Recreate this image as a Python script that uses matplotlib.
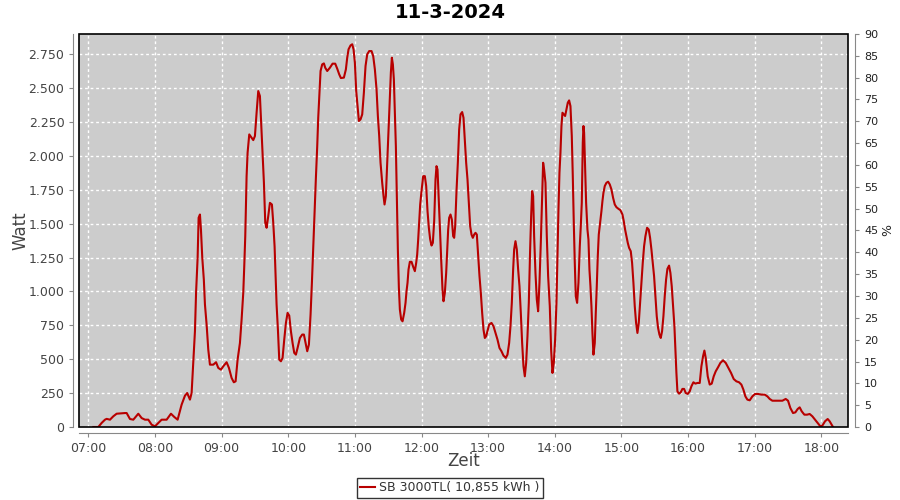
import matplotlib
matplotlib.use("Agg")
import matplotlib.pyplot as plt
import matplotlib.dates as mdates
import matplotlib.ticker as mticker
import numpy as np
import pandas as pd

# day and inverter
day = "2024-03-11"
title = "11-3-2024"
series_label = "SB 3000TL( 10,855 kWh )"

# minutes after 07:00 and AC power in watt
minutes = [
    4.5, 9, 12, 15, 16.5, 19.5, 22.5, 25.5, 33, 34.5, 37.5, 40.5, 45, 48, 51, 54, 57, 60,
    63, 66, 70.5, 74.4, 77.4, 80.4, 84, 87, 89, 91.5, 93, 94.5, 96, 97, 98.4, 99.3, 100.5,
    101.4, 102.6, 104, 105, 106.5, 108, 109.5, 112.5, 115, 117, 119.4, 121.5, 124.5, 126.6,
    129, 131, 132.6, 134.4, 136.5,
    138, 139.5, 140.4, 141.3, 141.9, 142.5, 143.4, 144.9, 146.4, 148.5, 150, 151.5, 153,
    154.5, 155.4, 156.9, 158.1, 159.3, 160.5, 162, 163.5, 165.3, 166.5, 167.7, 168.6, 169.5,
    170.7, 171.9, 173.4, 174.9, 176.4, 177.9, 179.4, 180.9, 182.4, 183.9, 185.4, 186.9,
    188.4, 190.5, 192.6, 194.1, 195.6, 197.1, 198.6, 200.1, 201.3, 202.5, 203.7, 204.9,
    206.1, 207, 207.9, 209.1, 210.6, 212.1, 213.3, 215.1, 217.5, 219.9, 222.3, 224.1, 225.9,
    227.4, 230.1, 231.9, 233.1, 234.3, 236.1, 237.6, 238.8, 240, 241.2, 242.4, 243.6, 245.1,
    246.6, 248.1, 249.6, 251.1, 252.9, 255, 256.5, 258, 259.5, 260.7, 261.9, 263.1, 264.6,
    265.8, 266.7, 267.9, 269.1, 270.3, 271.5, 272.4, 273.3, 274.2, 275.1, 276, 276.9,
    277.8, 278.7, 279.6, 280.5,
    281.7, 282.9, 284.4, 285.6, 286.5, 287.4, 288.3, 289.5, 291, 292.5, 294, 295.2, 296.1,
    297, 297.9, 298.8, 300, 301.5, 303, 304.2, 305.4, 306.6, 307.8, 309, 310.2, 311.4,
    312.6, 313.5, 314.4, 315.3, 316.5, 317.7, 318.9, 319.8, 321, 322.2, 323.1, 324, 324.9,
    326.1, 327.3, 328.5, 329.4, 330.3, 331.5, 332.7, 333.9, 335.1, 336.6, 337.8, 339,
    340.2, 341.4, 342.6, 343.8, 345, 346.2, 347.4, 348.6, 349.8, 351, 352.2, 353.4, 354.6,
    355.8, 357, 358.2, 359.4, 360.9, 363, 364.8, 366.6, 368.4, 370.2, 372, 373.8, 375.9,
    377.4, 378.9, 380.1, 381.3, 382.5, 383.4, 384.6, 385.8, 387, 388.2, 389.4, 390.6,
    391.8, 393, 394.2, 395.4, 396.6, 397.8, 398.7, 399.6, 400.5, 401.4, 402.6, 403.8, 405,
    406.2, 407.4, 408.6, 409.5, 410.4, 411.6, 412.8, 414, 415.5,
    416.7, 417.9, 419.1, 420.3, 421.5, 422.4, 423.3, 424.2, 425.1, 426, 426.9, 428.1,
    429.3, 430.5, 431.7, 432.9, 434.1, 435.3, 436.2, 437.1, 438, 438.9, 440.1, 441.3,
    442.5, 443.4, 444.3, 445.2, 445.8, 446.4, 447.3, 448.2, 449.4, 450.3, 451.2, 452.1,
    453, 453.9, 454.8, 456, 456.9, 457.8, 458.7, 459.6, 460.8, 462, 462.9, 463.8, 465,
    466.5, 468, 469.5, 471, 472.5, 474, 475.5, 477.3, 479.1, 480.9, 482.1, 483.3, 484.5,
    485.7, 486.9, 488.4, 489.6, 490.8, 492, 493.2, 494.4, 495.6, 496.8, 498, 499.2, 500.4,
    501.6, 503.1, 504.6, 505.8, 507, 508.2, 509.4, 510.6, 511.8, 513, 514.2, 515.4, 516.6,
    517.8, 519, 520.2, 521.4, 522.9, 524.1, 525.3, 526.5, 527.7, 528.6, 529.5, 530.4,
    531.9, 533.4, 534.9, 536.4, 537.9, 539.7, 541.5, 543, 544.8, 546.6, 548.4,
    550.5, 552, 553.5, 554.7, 555.9, 557.7, 559.5, 561.3, 563.1, 564.9, 567, 569.1, 571.5,
    573.9, 576.3, 578.7, 581.1, 583.5, 585.9, 588, 589.8, 591.6, 593.4, 595.5, 597.9,
    600.3, 603, 606, 609, 611.4, 613.5, 615.9, 618.9, 621.9, 624.9, 627.9, 630, 632.1,
    634.5, 636.6, 638.7, 640.5, 642.3, 644.7, 647.1, 649.5, 651.9, 654.3, 656.7, 659.1,
    660.9, 663.3, 665.7, 667.5, 669.3, 670.5,
]
watt = [
    0, 0, 30, 54, 60, 54, 79, 98, 103, 103, 59, 54, 98, 66, 54, 54, 17, 5,
    30, 54, 54, 98, 74, 54, 165, 231, 251, 202, 251, 473, 707, 990, 1248, 1544, 1568,
    1457, 1248, 1088, 904, 756, 571, 460, 460, 478, 436, 423, 448, 478, 436,
    362, 330, 337, 497, 620,
    793, 990, 1187, 1408, 1630, 1851, 2024, 2159, 2142, 2117, 2147, 2319, 2479,
    2442, 2282, 2024, 1802, 1507, 1470, 1556, 1654, 1642, 1507, 1334, 1113, 904,
    719, 497, 485, 510, 645, 768, 842, 822, 707, 620, 547, 534,
    583, 657, 682, 682, 620, 559, 608, 830, 1064, 1322, 1581, 1839,
    2073, 2282, 2430, 2627, 2676, 2683, 2651, 2627, 2651, 2681, 2681, 2644, 2602,
    2575, 2578, 2639, 2725, 2787, 2816, 2824, 2787, 2688, 2479, 2368, 2258, 2270,
    2307, 2467, 2664, 2750, 2774, 2774, 2737, 2639, 2491, 2295, 2147, 1950, 1802,
    1704, 1642, 1704, 1950, 2196, 2455, 2615, 2725, 2676, 2565, 2319, 2073,
    1679, 1310, 1030, 867,
    793, 780, 842, 916, 1002, 1064, 1162, 1219, 1219, 1182, 1150, 1211, 1273,
    1384, 1519, 1642, 1741, 1851, 1851, 1778, 1593, 1470, 1384, 1339, 1359, 1519,
    1827, 1925, 1900, 1728, 1482, 1236, 1014, 928, 990, 1137, 1297, 1457, 1544,
    1568, 1531, 1408, 1396, 1482, 1741, 1950, 2196, 2307, 2324, 2282, 2122,
    1950, 1827, 1654, 1482, 1420, 1396, 1420, 1433, 1420, 1260, 1113, 990, 842,
    719, 657, 670, 707, 756, 768, 744, 694, 645, 583, 559, 527, 510,
    534, 620, 744, 916, 1162, 1310, 1371, 1310, 1162, 1039, 842, 620,
    448, 374, 473, 670, 916, 1310, 1556, 1741, 1704, 1408, 1137, 941, 854,
    1064, 1359, 1704, 1950, 1900, 1802, 1408, 1113, 891,
    571, 399, 473, 645, 916, 1260, 1605, 1876, 2024, 2221, 2319, 2307,
    2295, 2344, 2393, 2410, 2368, 2147, 1851, 1507, 1211, 965, 916, 1064,
    1334, 1482, 1654, 2098, 2221, 2172, 1925, 1654, 1457, 1384, 1162, 1039,
    891, 694, 534, 620, 842, 1039, 1260, 1420, 1507, 1593, 1667, 1728, 1778,
    1802, 1810, 1790, 1753, 1691, 1642, 1622, 1610, 1600, 1568, 1519, 1457, 1408,
    1359, 1322, 1297, 1211, 1064, 891, 768, 694, 768, 916, 1064, 1211, 1334,
    1408, 1470, 1457, 1396, 1310, 1211, 1113, 965, 817, 731, 682, 657, 707,
    817, 965, 1088, 1167, 1191, 1137, 1039, 891, 744, 571, 399, 263,
    246, 256, 281, 281, 251, 244, 263, 300, 330, 320, 325,
    325, 448, 522, 564, 510, 374, 313, 320, 374, 411, 441, 473, 492,
    473, 436, 399, 354, 337, 330, 313, 276, 226, 202, 197, 226,
    244, 244, 239, 239, 226, 207, 194, 194, 194, 194, 207, 194, 140,
    103, 108, 133, 145, 116, 91, 91, 96, 79, 54, 30, 5,
    10, 42, 59, 42, 17, 0,
]

start = pd.Timestamp(day + " 07:00")
times = start + pd.to_timedelta(minutes, unit="min")

x_from = start - pd.Timedelta(minutes=8.4)
x_to = start + pd.Timedelta(minutes=684)

watt_ticks = np.arange(0, 2751, 250)
pct_ticks = np.arange(0, 91, 5)

fig = plt.figure(figsize=(9, 5), dpi=100)
ax = fig.add_axes([79 / 900, 1 - 427 / 500, (848 - 79) / 900, (427 - 34) / 500])
ax.set_facecolor("#cccccc")
ax.plot(times, watt, color="#b80000", lw=1.5, label=series_label, zorder=3)

ax.set_xlim(x_from, x_to)
ax.set_ylim(0, 2900)
ax.set_yticks(watt_ticks)
ax.yaxis.set_major_formatter(
    mticker.FuncFormatter(lambda v, _: f"{int(v):,}".replace(",", ".")))
ax.xaxis.set_major_locator(mdates.HourLocator())
ax.xaxis.set_major_formatter(mdates.DateFormatter("%H:%M"))

ax.grid(True, color="white", linestyle=(0, (2, 2)), lw=1)
ax.set_axisbelow(True)

for side in ["top", "right"]:
    ax.spines[side].set_visible(False)
for side in ["left", "bottom"]:
    ax.spines[side].set_position(("outward", 4))
    ax.spines[side].set_color("#888888")
ax.tick_params(colors="#888888", labelcolor="#444444", labelsize=9, length=3)
ax.set_ylabel("Watt", fontsize=12, color="#444444", labelpad=-1)
ax.set_xlabel("Zeit", fontsize=12, color="#444444", labelpad=-2)

# black frame round the plot area
frame = plt.Rectangle((0, 0), 1, 1, transform=ax.transAxes, fill=False,
                      edgecolor="black", lw=1.2, zorder=5, clip_on=False)
ax.add_patch(frame)

ax2 = ax.twinx()
ax2.set_ylim(0, 90)
ax2.set_yticks(pct_ticks)
for side in ["top", "left", "bottom"]:
    ax2.spines[side].set_visible(False)
ax2.spines["right"].set_position(("outward", 5))
ax2.spines["right"].set_color("#888888")
ax2.tick_params(colors="#888888", labelcolor="#222222", labelsize=8, length=3)
ax2.set_ylabel("%", fontsize=9, color="#222222", labelpad=2)

fig.suptitle(title, fontsize=14, fontweight="bold", y=0.974, va="center")

leg = fig.legend(handles=ax.get_lines(), loc="center", bbox_to_anchor=(0.5, 0.024),
                 fontsize=9, frameon=True, fancybox=False, handlelength=1.2,
                 handletextpad=0.3, borderpad=0.3, borderaxespad=0)
leg.get_frame().set_edgecolor("black")
leg.get_frame().set_linewidth(1)
for t in leg.get_texts():
    t.set_color("#333333")

fig.savefig("out.png", dpi=100)
